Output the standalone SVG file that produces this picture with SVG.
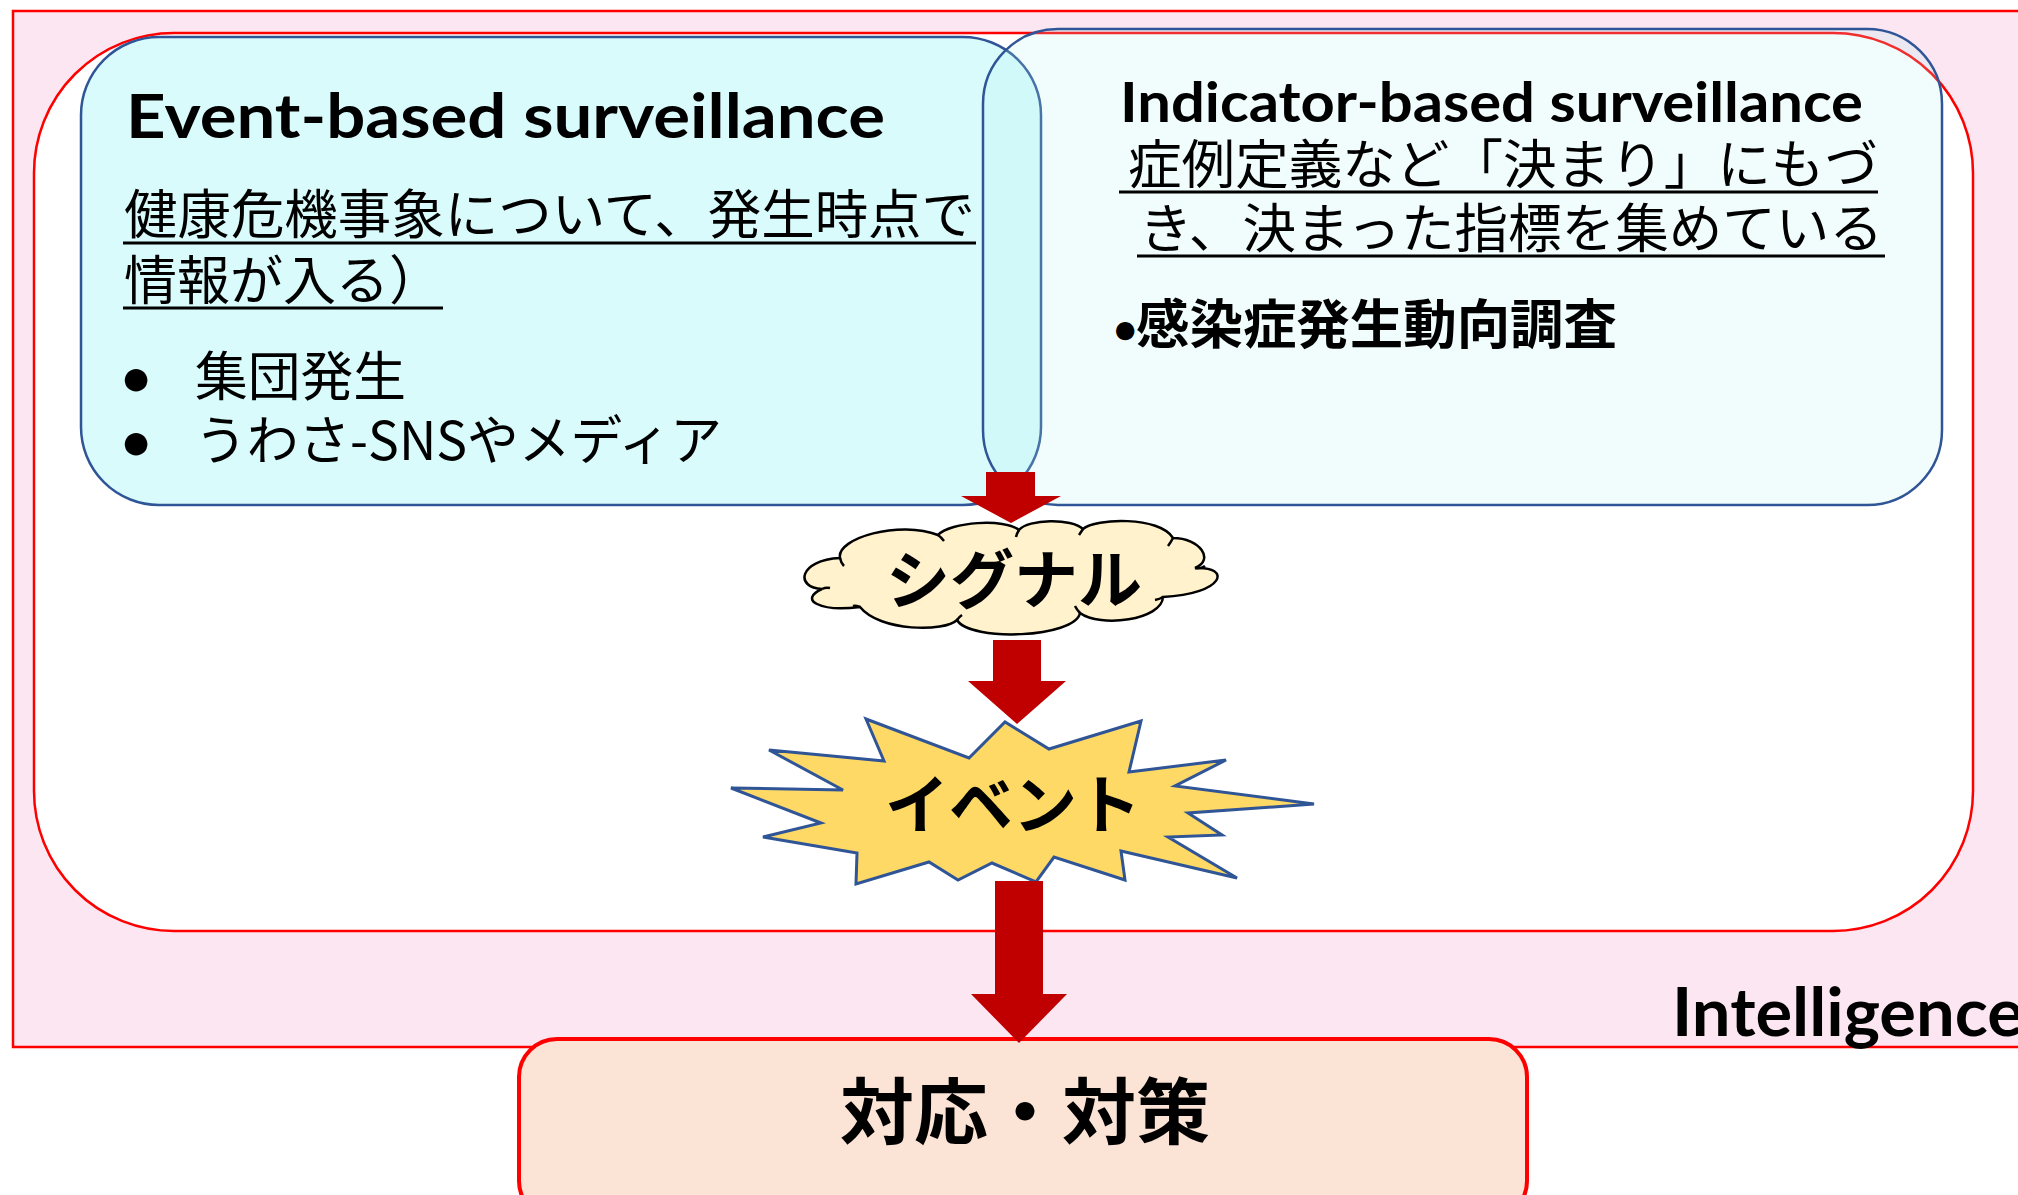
<svg xmlns="http://www.w3.org/2000/svg" width="2018" height="1195" viewBox="0 0 2018 1195">
<style>
.lat{font-family:Lato,"Noto Sans","Liberation Sans",sans-serif;font-weight:bold;fill:#000}
.jp{font-family:"Noto Sans CJK JP","Noto Sans",sans-serif;font-weight:normal;fill:#000}
.jpb{font-family:"Noto Sans CJK JP","Noto Sans",sans-serif;font-weight:bold;fill:#000}
.bul{font-family:Lato,"Liberation Sans",sans-serif;font-weight:bold}
.ul{stroke:#000;stroke-width:3;fill:none}
.boxstroke{stroke:#2F5597;stroke-width:2.5}
.arrow{fill:#C00000;stroke:none}
</style>
<g id="intelligence-area">
<rect x="13" y="11" width="2030" height="1036" fill="#FBE6F2" stroke="#FF0000" stroke-width="2.5"/>
<text class="lat" x="1672" y="1036" font-size="66" textLength="352" lengthAdjust="spacingAndGlyphs">Intelligence</text>
</g>
<g id="surveillance-area">
<rect x="34" y="33" width="1939" height="898" rx="140" ry="140" fill="#FFFFFF" stroke="#FF0000" stroke-width="2.5"/>
</g>
<g id="event-based">
<rect x="81" y="37" width="960" height="468" rx="78" ry="78" fill="#D9FBFC" class="boxstroke"/>
<text class="lat" x="126" y="138" font-size="61" textLength="759" lengthAdjust="spacingAndGlyphs">Event-based surveillance</text>
<text class="jp" font-size="53"><tspan x="124" y="234" textLength="851" lengthAdjust="spacingAndGlyphs">健康危機事象について、発生時点で</tspan><tspan x="124" y="300">情報が入る）</tspan></text>
<line class="ul" x1="123" y1="243" x2="976" y2="243"/>
<line class="ul" x1="123" y1="308" x2="443" y2="308"/>
<text class="jp" font-size="53"><tspan class="bul" x="121" y="396" font-size="52">•</tspan><tspan x="195" y="396" textLength="211" lengthAdjust="spacingAndGlyphs">集団発生</tspan><tspan class="bul" x="121" y="460" font-size="52">•</tspan><tspan x="195" y="460" textLength="527" lengthAdjust="spacingAndGlyphs">うわさ-SNSやメディア</tspan></text>
</g>
<g id="indicator-based">
<rect x="983" y="29" width="959" height="476" rx="75" ry="75" fill="#B0F4EF" fill-opacity="0.19" class="boxstroke"/>
<text class="jp" font-size="53"><tspan class="lat" x="1120" y="122" font-size="56" textLength="743" lengthAdjust="spacingAndGlyphs">Indicator-based surveillance</tspan><tspan x="1128" y="184" textLength="750" lengthAdjust="spacingAndGlyphs">症例定義など「決まり」にもづ</tspan><tspan x="1139" y="248" textLength="744" lengthAdjust="spacingAndGlyphs">き、決まった指標を集めている</tspan></text>
<line class="ul" x1="1119" y1="192" x2="1878" y2="192"/>
<line class="ul" x1="1137" y1="256" x2="1885" y2="256"/>
<text class="jpb" font-size="53"><tspan class="bul" x="1113" y="344" font-size="42">•</tspan><tspan x="1136" y="344" textLength="481" lengthAdjust="spacingAndGlyphs">感染症発生動向調査</tspan></text>
</g>
<g id="signal">
<path d="M840,558 C836,538 900,520 938,535 C950,522 1005,518 1019,530 C1028,519 1072,518 1083,529 C1095,518 1160,516 1173,538 C1200,538 1215,560 1195,568 C1232,566 1225,594 1163,597 C1162,620 1100,628 1080,613 C1075,638 970,642 957,620 C945,632 880,632 860,607 C820,612 798,600 822,589 C795,588 798,560 840,558 Z" fill="#FFF2CC" stroke="#000" stroke-width="2.5"/>
<path d="M840,558 q1,5 4,8 M938,535 q3,2 6,6 M1019,530 q-2,3 -3,7 M1083,529 q-2,3 -4,6 M1173,538 q-2,4 -5,8 M1195,568 q6,1 10,-2 M1163,597 q-3,2 -8,3 M1080,613 q-3,-3 -5,-7 M957,620 q2,-3 5,-5 M860,607 q-3,-2 -7,-1 M822,589 q4,-2 8,-1" fill="none" stroke="#000" stroke-width="2.5"/>
<text class="jpb" x="1014" y="603" font-size="64" text-anchor="middle">シグナル</text>
</g>
<g id="event">
<polygon points="731,788 843,790 769,750 884,761 866,719 969,758 1005,722 1049,749 1141,721 1129,772 1226,760 1175,786 1314,804 1188,813 1222,835 1168,837 1237,878 1121,851 1125,880 1054,857 1036,882 992,863 958,880 929,862 856,884 857,853 763,837 821,823" fill="#FFD966" stroke="#2F5597" stroke-width="3" stroke-linejoin="miter"/>
<text class="jpb" x="1013" y="828" font-size="64" text-anchor="middle">イベント</text>
</g>
<g id="response">
<rect x="519" y="1039" width="1008" height="180" rx="38" ry="38" fill="#FBE4D6" stroke="#FF0000" stroke-width="4"/>
<text class="jpb" x="1025" y="1138" font-size="72" text-anchor="middle" textLength="370" lengthAdjust="spacingAndGlyphs">対応・対策</text>
</g>
<g id="connectors">
<polygon class="arrow" points="986,472 1035,472 1035,496 1061,496 1011,523 961,496 986,496"/>
<polygon class="arrow" points="993,640 1041,640 1041,681 1066,681 1017,724 968,681 993,681"/>
<polygon class="arrow" points="995,881 1043,881 1043,994 1067,994 1019,1043 971,994 995,994"/>
</g>
</svg>
